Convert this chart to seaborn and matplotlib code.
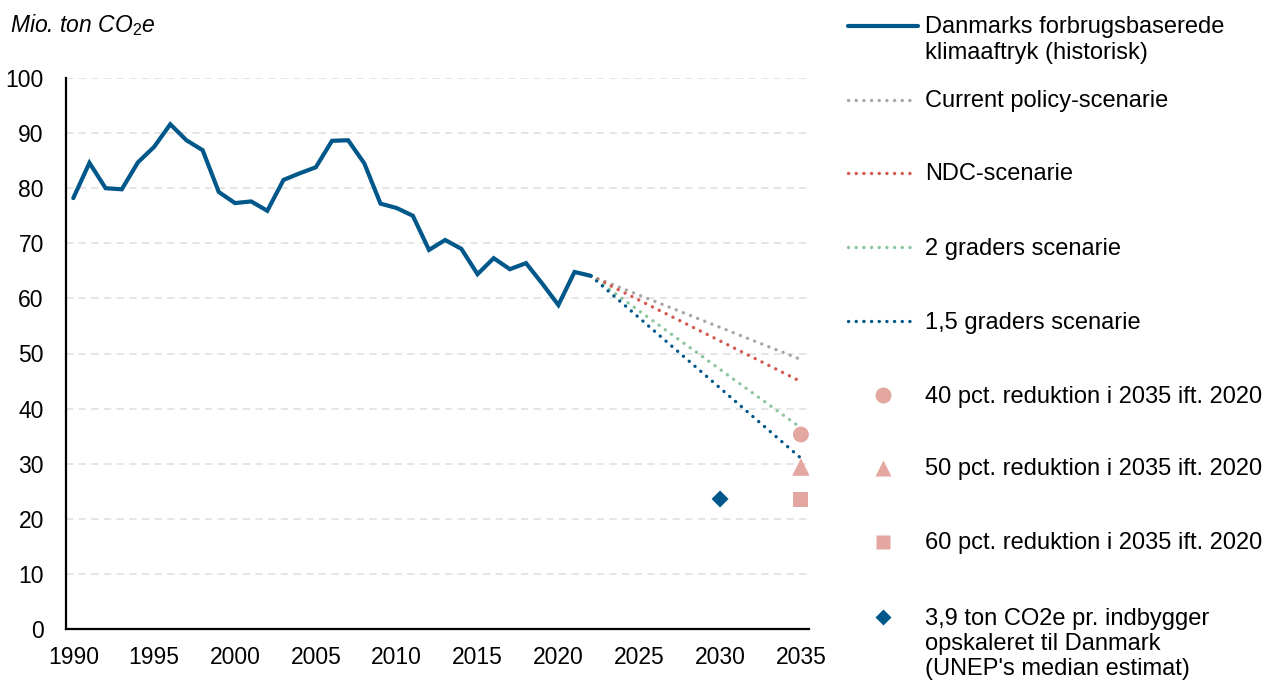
import numpy as np
import pandas as pd
import matplotlib
matplotlib.use("Agg")
import matplotlib.pyplot as plt
import seaborn as sns
from matplotlib.lines import Line2D

# ---------------- data ----------------
hist_years = list(range(1990, 2023))
hist_values = [78.2, 84.6, 80.0, 79.8, 84.7, 87.5, 91.6, 88.7, 86.9, 79.3,
               77.3, 77.6, 75.9, 81.5, 82.7, 83.8, 88.6, 88.7, 84.5, 77.2,
               76.4, 75.0, 68.8, 70.6, 69.0, 64.4, 67.3, 65.3, 66.4, 62.7,
               58.8, 64.8, 64.1]

scen_years = [2022, 2035]
scen_current = [64.1, 48.9]
scen_ndc = [64.1, 44.9]
scen_2deg = [64.1, 36.5]
scen_15deg = [64.1, 31.0]

target_year = 2035
target_40 = 35.3
target_50 = 29.4
target_60 = 23.5
unep_year = 2030
unep_value = 23.6

x_ticks = [1990, 1995, 2000, 2005, 2010, 2015, 2020, 2025, 2030, 2035]
y_ticks = [0, 10, 20, 30, 40, 50, 60, 70, 80, 90, 100]

labels = [
    "Danmarks forbrugsbaserede\nklimaaftryk (historisk)",
    "Current policy-scenarie",
    "NDC-scenarie",
    "2 graders scenarie",
    "1,5 graders scenarie",
    "40 pct. reduktion i 2035 ift. 2020",
    "50 pct. reduktion i 2035 ift. 2020",
    "60 pct. reduktion i 2035 ift. 2020",
    "3,9 ton CO2e pr. indbygger\nopskaleret til Danmark\n(UNEP's median estimat)",
]

# ---------------- style ----------------
sns.set_theme(style="white")
plt.rcParams["font.family"] = ["Liberation Sans", "DejaVu Sans"]
plt.rcParams["mathtext.fontset"] = "custom"
plt.rcParams["mathtext.it"] = "Liberation Sans:italic"
plt.rcParams["mathtext.rm"] = "Liberation Sans"
plt.rcParams["mathtext.default"] = "it"
plt.rcParams["text.color"] = "black"

BLUE = "#00578A"
GRAY = "#A6A6A6"
RED = "#D3594E"
GREEN = "#8CC59E"
PINK = "#E3A6A1"
FS = 17
TFS = 16.5

fig = plt.figure(figsize=(12.76, 6.82), dpi=100)
W, H = 1276, 682
ax = fig.add_axes([66 / W, 1 - 629 / H, (809 - 66) / W, (629 - 78) / H])

# grid
for yv in y_ticks[1:]:
    ax.axhline(yv, color="#E3E3E3", lw=1.3, ls=(0, (4, 3)), zorder=0)

sc = [(scen_current, GRAY), (scen_ndc, RED), (scen_2deg, GREEN), (scen_15deg, BLUE)]
for vals, col in sc:
    df = pd.DataFrame({"year": scen_years, "value": vals})
    sns.lineplot(data=df, x="year", y="value", ax=ax, color=col, lw=2.4)
    line = ax.lines[-1]
    line.set_dashes((0.05, 2.25))
    line.set_dash_capstyle("round")
    line.set_zorder(2)

hdf = pd.DataFrame({"year": hist_years, "value": hist_values})
sns.lineplot(data=hdf, x="year", y="value", ax=ax, color=BLUE, lw=3.0, zorder=3)
ax.lines[-1].set_solid_joinstyle("miter")

sns.scatterplot(x=[target_year], y=[target_40], ax=ax, marker="o", s=130,
                color=PINK, edgecolor="none", zorder=4)
sns.scatterplot(x=[target_year], y=[target_50], ax=ax, marker="^", s=160,
                color=PINK, edgecolor="none", zorder=4)
sns.scatterplot(x=[target_year], y=[target_60], ax=ax, marker="s", s=115,
                color=PINK, edgecolor="none", zorder=4)
sns.scatterplot(x=[unep_year], y=[unep_value], ax=ax, marker="D", s=75,
                color=BLUE, edgecolor="none", zorder=4)

ax.set_xlim(1989.55, 2035.5)
ax.set_ylim(0, 100)
ax.set_xticks(x_ticks)
ax.set_yticks(y_ticks)
ax.set_xticklabels([str(t) for t in x_ticks], fontsize=TFS)
ax.set_yticklabels([str(t) for t in y_ticks], fontsize=TFS)
ax.tick_params(axis="x", length=0, pad=12, colors="black")
ax.tick_params(axis="y", length=0, pad=16, colors="black")
ax.set_xlabel("")
ax.set_ylabel("")
for s in ["top", "right"]:
    ax.spines[s].set_visible(False)
for s in ["left", "bottom"]:
    ax.spines[s].set_color("black")
    ax.spines[s].set_linewidth(1.6)

fig.text(10 / W, 1 - 25 / H, r"Mio. ton CO$_2$e", fontsize=TFS, style="italic",
         ha="left", va="center", color="black")

# ---------------- legend (drawn manually) ----------------
def fy(py):
    return 1 - py / H

hx0, hx1 = 848 / W, 918 / W
tx = 925 / W
handle_ys = [26, 100, 173, 247, 321, 395, 468, 542, 617]
styles = [
    dict(kind="line", color=BLUE),
    dict(kind="dot", color=GRAY),
    dict(kind="dot", color=RED),
    dict(kind="dot", color=GREEN),
    dict(kind="dot", color=BLUE),
    dict(kind="marker", marker="o", ms=11.5, color=PINK),
    dict(kind="marker", marker="^", ms=12, color=PINK),
    dict(kind="marker", marker="s", ms=10.5, color=PINK),
    dict(kind="marker", marker="D", ms=8, color=BLUE),
]
for py, st, lab in zip(handle_ys, styles, labels):
    y = fy(py)
    if st["kind"] == "line":
        fig.add_artist(Line2D([hx0, hx1], [y, y], color=st["color"], lw=3.0,
                              transform=fig.transFigure))
    elif st["kind"] == "dot":
        ln = Line2D([hx0, hx1 - 4 / W], [y, y], color=st["color"], lw=2.4,
                    transform=fig.transFigure)
        ln.set_dashes((0.05, 2.25))
        ln.set_dash_capstyle("round")
        fig.add_artist(ln)
    else:
        fig.add_artist(Line2D([883 / W], [y], marker=st["marker"], ms=st["ms"],
                              color=st["color"], mec="none", ls="none",
                              transform=fig.transFigure))
    fig.text(tx, fy(py - 9.5), lab, fontsize=FS, ha="left", va="top",
             transform=fig.transFigure, linespacing=1.2, color="black")

fig.savefig("out.png", dpi=100)
